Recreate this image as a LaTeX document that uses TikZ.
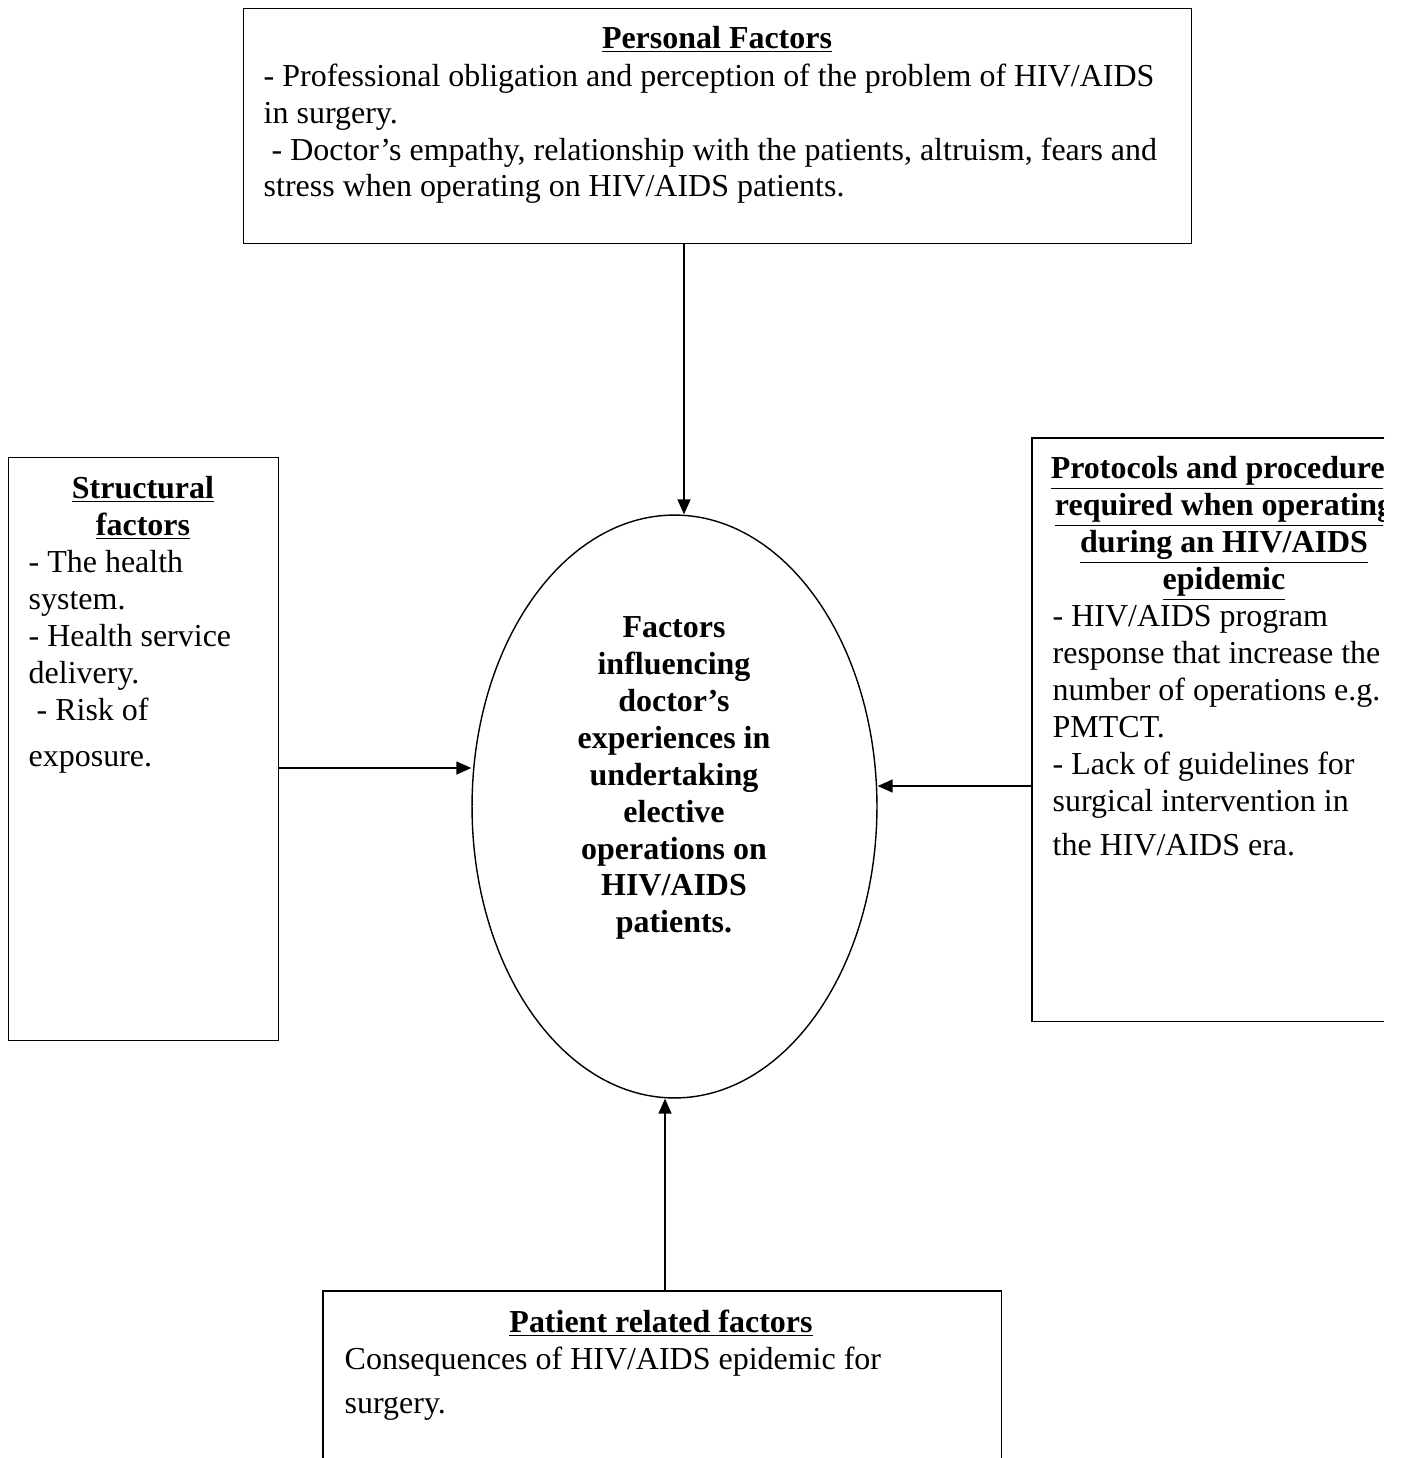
\documentclass[tikz,border=0pt]{standalone}
\usepackage{fontspec}
\setmainfont{Liberation Serif}
\usetikzlibrary{arrows.meta,shapes.geometric}
\begin{document}
\begin{tikzpicture}[x=0.02cm,y=-0.02cm,
  line width=0.8pt,
  box/.style={draw, inner sep=0pt, anchor=north west},
  openbox/.style={inner sep=0pt, anchor=north west},
  txt/.style={inner sep=0pt, font=\fontsize{18.2}{21}\selectfont, align=left, anchor=north west},
  ttl/.style={inner sep=0pt, font=\fontsize{18.2}{21}\selectfont\bfseries, align=center, anchor=north},
  arr/.style={-{Triangle[length=0.3cm,width=0.26cm]}}
]
\useasboundingbox (0,0) rectangle (1403,1458);

% boxes
\node[box, minimum width=18.96cm, minimum height=4.7cm] (pers) at (243,8) {};
\node[box, minimum width=5.4cm, minimum height=11.66cm] (struct) at (8,457) {};
\node[openbox, minimum width=7.02cm, minimum height=11.64cm] (prot) at (1032,438) {};
\draw (prot.north east) -- (prot.north west) -- (prot.south west) -- (prot.south east);
\node[openbox, minimum width=13.54cm, minimum height=3.4cm] (pat) at (323,1291) {};
\draw (pat.south west) -- (pat.north west) -- (pat.north east) -- (pat.south east);
\node[draw, ellipse, inner sep=0pt, minimum width=8.1cm, minimum height=11.66cm] (ell) at (674.5,806.5) {};

% texts
\node[ttl] (perst) at (717,26) {\underline{Personal Factors}};
\node[txt] (persb) at (263,63) {- Professional obligation and perception of the problem of HIV/AIDS\\in surgery.\\\ - Doctor’s empathy, relationship with the patients, altruism, fears and\\stress when operating on HIV/AIDS patients.};

\node[ttl] (structt) at (143,476) {\underline{Structural}\\\underline{factors}};
\node[txt] (structb) at (28,550) {- The health\\system.\\- Health service\\delivery.\\\ - Risk of\\[5pt]exposure.};

\node[ttl] (ellt) at (674,616) {Factors\\influencing\\doctor’s\\experiences in\\undertaking\\elective\\operations on\\HIV/AIDS\\patients.};

\begin{scope}
\clip (1032,430) rectangle (1383,1030);
\node[ttl] (prott) at (1224,456) {\underline{Protocols and procedures}\\\underline{required when operating}\\\underline{during an HIV/AIDS}\\\underline{epidemic}};
\node[txt] (protb) at (1052,605) {- HIV/AIDS program\\response that increase the\\number of operations e.g.\\PMTCT.\\- Lack of guidelines for\\surgical intervention in\\[4pt]the HIV/AIDS era.};
\end{scope}

\node[ttl] (patt) at (661,1309) {\underline{Patient related factors}};
\node[txt] (patb) at (344,1346) {Consequences of HIV/AIDS epidemic for\\[4pt]surgery.};

% connectors
\coordinate (pa) at (684,243);
\draw[arr] (pa) -- (pa |- ell.north);
\coordinate (sa) at (278,768);
\draw[arr] (sa) -- (ell.west |- sa);
\coordinate (ra) at (1032,786);
\draw[arr] (ra) -- (ell.east |- ra);
\coordinate (ba) at (665,1291);
\draw[arr] (ba) -- (ba |- ell.south);
\end{tikzpicture}
\end{document}
